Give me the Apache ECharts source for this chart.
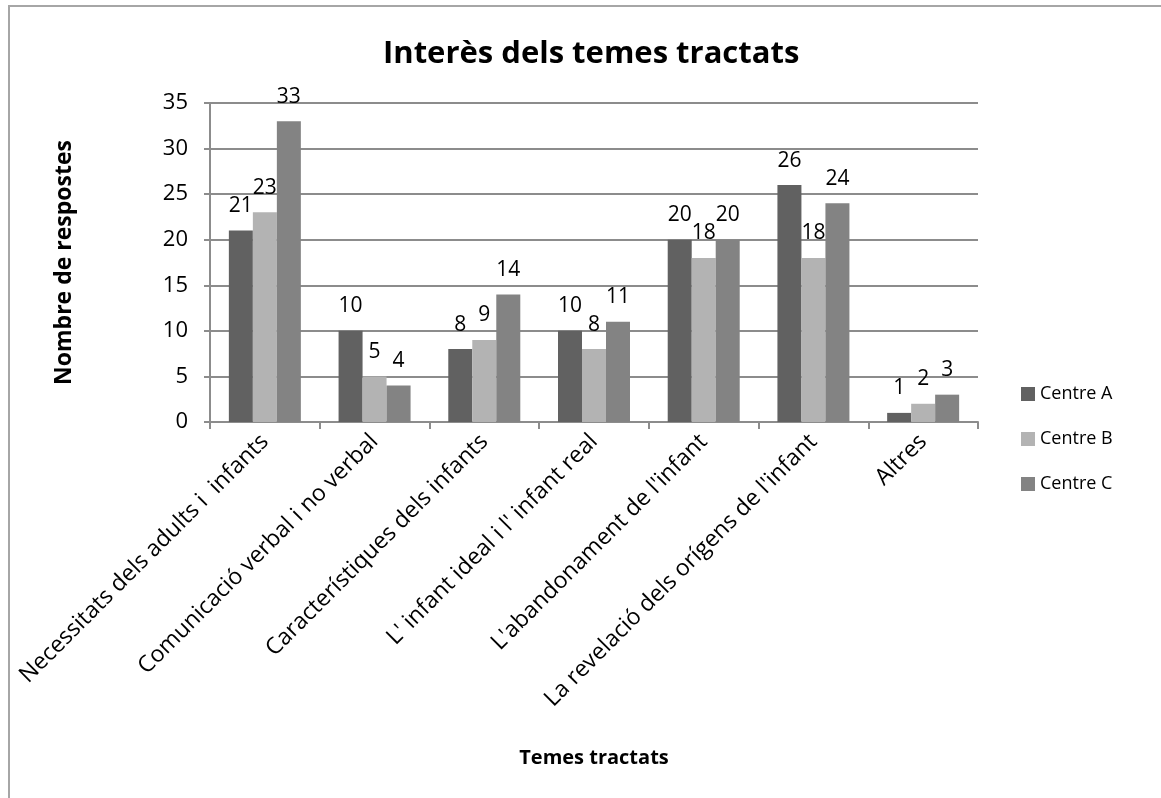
<!DOCTYPE html>
<html>
<head>
<meta charset="utf-8">
<script src="https://cdn.jsdelivr.net/npm/echarts@6/dist/echarts.min.js"></script>
<style>
  html, body { margin: 0; padding: 0; background: #fff; }
  #chart { width: 1161px; height: 798px; }
</style>
</head>
<body>
<div id="chart"></div>
<script>
// data
var categories = [
  'Necessitats dels adults i  infants',
  'Comunicació verbal i no verbal',
  'Característiques dels infants',
  "L' infant ideal i l' infant real",
  "L'abandonament de l'infant",
  "La revelació dels orígens de l'infant",
  'Altres'
];
var centreA = [21, 10, 8, 10, 20, 26, 1];
var centreB = [23, 5, 9, 8, 18, 18, 2];
var centreC = [33, 4, 14, 11, 20, 24, 3];
var seriesNames = ['Centre A', 'Centre B', 'Centre C'];
var colors = ['#616161', '#b3b3b3', '#838383'];

var font = '"Open Sans", "DejaVu Sans", sans-serif';

var chart = echarts.init(document.getElementById('chart'));

function bar(name, data, color) {
  return {
    name: name,
    type: 'bar',
    data: data,
    barWidth: 24,
    barGap: '0%',
    itemStyle: { color: color },
    label: {
      show: true,
      position: 'top',
      distance: 14,
      color: '#000',
      fontSize: 21,
      fontFamily: font
    }
  };
}

chart.setOption({
  animation: false,
  backgroundColor: '#fff',
  title: {
    text: 'Interès dels temes tractats',
    left: 378,
    top: 34,
    textStyle: { fontSize: 31, fontWeight: 'bold', color: '#000', fontFamily: font }
  },
  graphic: [{
    type: 'rect',
    shape: { x: 9, y: 6, width: 1300, height: 900 },
    style: { fill: 'none', stroke: '#a6a6a6', lineWidth: 2 },
    silent: true
  }],
  legend: {
    orient: 'vertical',
    left: 1016,
    top: 380,
    itemWidth: 14,
    itemHeight: 14,
    itemGap: 27,
    icon: 'rect',
    textStyle: { fontSize: 18, color: '#000', fontFamily: font },
    data: seriesNames
  },
  grid: { left: 210, right: 183, top: 103, bottom: 376 },
  xAxis: {
    type: 'category',
    data: categories,
    name: 'Temes tractats',
    nameLocation: 'middle',
    nameGap: 326,
    nameTextStyle: { fontSize: 20, fontWeight: 'bold', color: '#000', fontFamily: font },
    axisLine: { lineStyle: { color: '#8c8c8c', width: 2 } },
    axisTick: { show: true, alignWithLabel: false, length: 7, lineStyle: { color: '#8c8c8c', width: 2 } },
    axisLabel: {
      rotate: 45,
      interval: 0,
      margin: 16,
      fontSize: 23,
      color: '#000',
      fontFamily: font
    }
  },
  yAxis: {
    type: 'value',
    min: 0,
    max: 35,
    interval: 5,
    name: 'Nombre de respostes',
    nameLocation: 'middle',
    nameGap: 134,
    nameTextStyle: { fontSize: 23, fontWeight: 'bold', color: '#000', fontFamily: font },
    axisLine: { show: true, lineStyle: { color: '#8c8c8c', width: 2 } },
    axisTick: { show: true, length: 6, lineStyle: { color: '#8c8c8c', width: 2 } },
    axisLabel: { fontSize: 22, color: '#000', margin: 22, fontFamily: font },
    splitLine: { lineStyle: { color: '#8c8c8c', width: 2 } }
  },
  series: [
    bar(seriesNames[0], centreA, colors[0]),
    bar(seriesNames[1], centreB, colors[1]),
    bar(seriesNames[2], centreC, colors[2])
  ]
});
</script>
</body>
</html>
